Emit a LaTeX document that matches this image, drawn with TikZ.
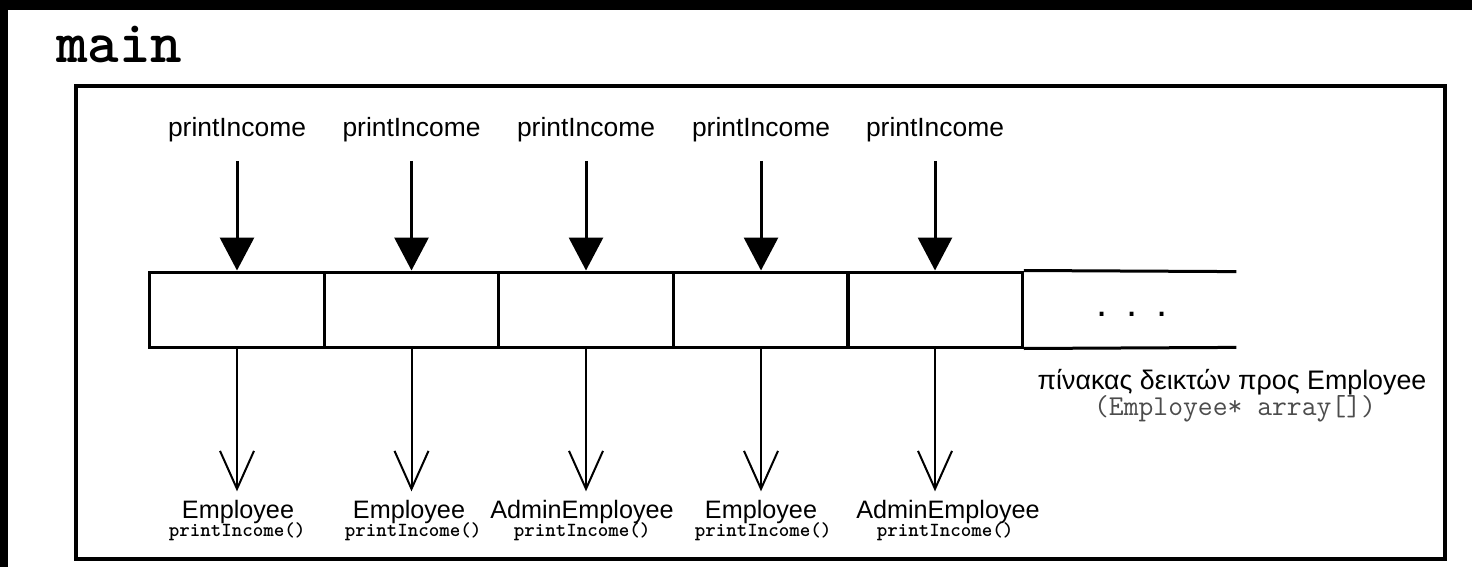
\documentclass[tikz,border=0pt]{standalone}
\usepackage{fontspec}
\setmainfont{Liberation Sans}
\usetikzlibrary{arrows.meta}

\begin{document}
\begin{tikzpicture}[x=0.5pt,y=-0.5pt,
  call/.style={font=\fontsize{13.2}{15}\selectfont, inner sep=0pt, anchor=base},
  cls/.style={font=\fontsize{12.6}{15}\selectfont, inner sep=0pt, anchor=base},
  meth/.style={font=\fontsize{10}{11}\selectfont\ttfamily\bfseries, inner sep=0pt, anchor=base},
  cell/.style={draw, line width=1.5pt, inner sep=0pt, minimum width=87.25pt, minimum height=37.5pt},
  slot/.style={inner sep=0pt, minimum width=107pt, minimum height=37.5pt},
  callarrow/.style={line width=1.5pt, shorten <=9pt, -{Triangle[length=16.5pt,width=17pt]}},
  ptrarrow/.style={line width=1pt, shorten >=4pt, -{Straight Barb[length=19pt,width=17pt]}},
]
\useasboundingbox (0,0) rectangle (1472,567);
\fill[white] (0,0) rectangle (1472,567);
% dark edges of the sheet
\fill[black] (0,0) rectangle (1472,10);
\fill[black] (0,0) rectangle (8,567);

% scope of main()
\node[font=\fontsize{30}{32}\selectfont\ttfamily\bfseries, inner sep=0pt, anchor=base west] (title) at (56,63) {main};
\draw[line width=2pt] (76,86) rectangle (1445,559);

% the pointer array
\node[cell] (c1) at (237,309.5) {};
\node[cell] (c2) at (411.5,309.5) {};
\node[cell] (c3) at (586,309.5) {};
\node[cell] (c4) at (761,309.5) {};
\node[cell] (c5) at (935,309.5) {};
\node[slot] (c6) at (1129,309.5) {};
\draw[line width=1.5pt] (c5.north east) -- (c6.north east);
\draw[line width=1.5pt] (c5.south east) -- (c6.south east);
\node[font=\fontsize{20}{22}\selectfont, inner sep=0pt, anchor=base] (dots) at (1132,316) {.\hspace{9.5pt}.\hspace{9.5pt}.};

\node[font=\fontsize{13.4}{15}\selectfont, inner sep=0pt, anchor=base] (arrname) at (1232,389) {πίνακας δεικτών προς Employee};
\node[font=\fontsize{14.4}{16}\selectfont\ttfamily, text=black!70, inner sep=0pt, anchor=base] (arrdecl) at (1235,415) {(Employee* array[])};

% calls of printIncome through the array
\foreach \i/\x in {1/237,2/411.5,3/586,4/761,5/935}{
  \node[call] (t\i) at (\x,137) {printIncome};
  \draw[callarrow] (t\i) -- (c\i.north);
}

% the objects the pointers refer to
\node[cls] (e1) at (238,518) {Employee};
\node[cls] (e2) at (409,518) {Employee};
\node[cls] (e3) at (582,518) {AdminEmployee};
\node[cls] (e4) at (761,518) {Employee};
\node[cls] (e5) at (948,518) {AdminEmployee};
\node[meth] (m1) at (237,536) {printIncome()};
\node[meth] (m2) at (413,536) {printIncome()};
\node[meth] (m3) at (582,536) {printIncome()};
\node[meth] (m4) at (763,536) {printIncome()};
\node[meth] (m5) at (945,536) {printIncome()};
\foreach \i in {1,...,5}{
  \draw[ptrarrow] (c\i.south) -- (c\i.south |- e\i.north);
}
\end{tikzpicture}
\end{document}
